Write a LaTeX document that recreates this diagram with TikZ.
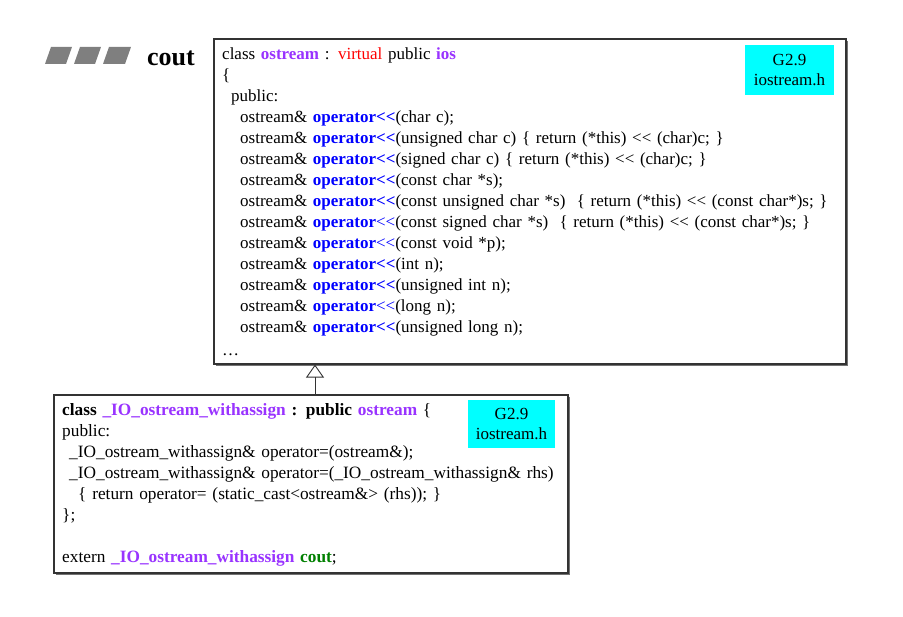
\documentclass[tikz,border=0pt]{standalone}
\usepackage{fontspec}
\setmainfont{Liberation Serif}
\usetikzlibrary{arrows.meta,shadows}

\definecolor{clspurple}{HTML}{9933FF}
\definecolor{kwred}{HTML}{FF0000}
\definecolor{opblue}{HTML}{0000FF}
\definecolor{coutgreen}{HTML}{008000}
\definecolor{tagcyan}{HTML}{00FFFF}
\definecolor{framegray}{HTML}{333333}
\definecolor{titlegray}{HTML}{7F7F7F}

% code markup helpers
\newcommand\shl{<\kern0pt<}
\newcommand\cls[1]{\textcolor{clspurple}{\textbf{#1}}}
\newcommand\opb{\textcolor{opblue}{\textbf{operator\shl}}}
\newcommand\opt{\textcolor{opblue}{\textbf{operator}\shl}}
\newcommand\ostr{ostream\&\ }

\tikzset{
  codebox/.style={draw=framegray, line width=1.6pt, fill=white, anchor=north west,
    inner sep=0pt,
    drop shadow={shadow xshift=2pt, shadow yshift=-2pt, fill=black!55, opacity=1}},
  codetext/.style={anchor=base west, inner sep=0pt, text width=#1, align=left,
    font=\fontsize{17}{21}\selectfont},
  tagbox/.style={fill=tagcyan, inner sep=0pt, align=center,
    font=\fontsize{17}{20}\selectfont},
  inherit/.style={line width=0.9pt, draw=framegray,
    -{Triangle[open, length=13pt, width=18pt, line width=0.9pt]}},
  titleblock/.style={fill=titlegray},
}

\begin{document}
\begin{tikzpicture}[x=1pt, y=-1pt]
\useasboundingbox (0,0) rectangle (903,617);

% title bar
\fill[titleblock] (45,64) -- (51,47) -- (72,47) -- (66,64) -- cycle;
\fill[titleblock] (74,64) -- (80,47) -- (101,47) -- (95,64) -- cycle;
\fill[titleblock] (103,64) -- (109,47) -- (131,47) -- (125,64) -- cycle;
\node[anchor=base west, inner sep=0pt, font=\fontsize{26}{30}\selectfont\bfseries] (title) at (147,66) {cout};

% base class ostream
\node[codebox, minimum width=632pt, minimum height=325pt] (base) at (213,38) {};
\node[codetext=620pt] (basetext) at (222,60) {%
class \cls{ostream} : \textcolor{kwred}{virtual} public \cls{ios}\\
\{\\
\hspace*{9pt}public:\\
\hspace*{18pt}\ostr\opb(char c);\\
\hspace*{18pt}\ostr\opb(unsigned char c) \{ return (*this) \shl{} (char)c; \}\\
\hspace*{18pt}\ostr\opb(signed char c) \{ return (*this) \shl{} (char)c; \}\\
\hspace*{18pt}\ostr\opb(const char *s);\\
\hspace*{18pt}\ostr\opb(const unsigned char *s)\ \ \{ return (*this) \shl{} (const char*)s; \}\\
\hspace*{18pt}\ostr\opt(const signed char *s)\ \ \{ return (*this) \shl{} (const char*)s; \}\\
\hspace*{18pt}\ostr\opt(const void *p);\\
\hspace*{18pt}\ostr\opb(int n);\\
\hspace*{18pt}\ostr\opb(unsigned int n);\\
\hspace*{18pt}\ostr\opt(long n);\\
\hspace*{18pt}\ostr\opb(unsigned long n);\\[2pt]
\dots};
\node[tagbox, minimum width=89pt, minimum height=50pt] (basetag) at (789.5,70) {G2.9\\iostream.h};

% derived class _IO_ostream_withassign
\node[codebox, minimum width=514pt, minimum height=178pt] (derived) at (53,394) {};
\node[codetext=505pt, font=\fontsize{17.3}{21}\selectfont] (derivedtext) at (62,416) {%
\textbf{class \cls{\_IO\_ostream\_withassign} : public} \cls{ostream} \{\\
public:\\
\hspace*{7pt}\_IO\_ostream\_withassign\& operator=(ostream\&);\\
\hspace*{7pt}\_IO\_ostream\_withassign\& operator=(\_IO\_ostream\_withassign\& rhs)\\
\hspace*{16pt}\{ return operator= (static\_cast<ostream\&> (rhs)); \}\\
\};\\[21pt]
extern \cls{\_IO\_ostream\_withassign} \textcolor{coutgreen}{\textbf{cout}};};
\node[tagbox, minimum width=87pt, minimum height=48pt] (derivedtag) at (511.5,424) {G2.9\\iostream.h};

% inheritance arrow
\coordinate (hook) at (315,394);
\draw[inherit] (derived.north -| hook) -- (base.south -| hook);
\end{tikzpicture}
\end{document}
